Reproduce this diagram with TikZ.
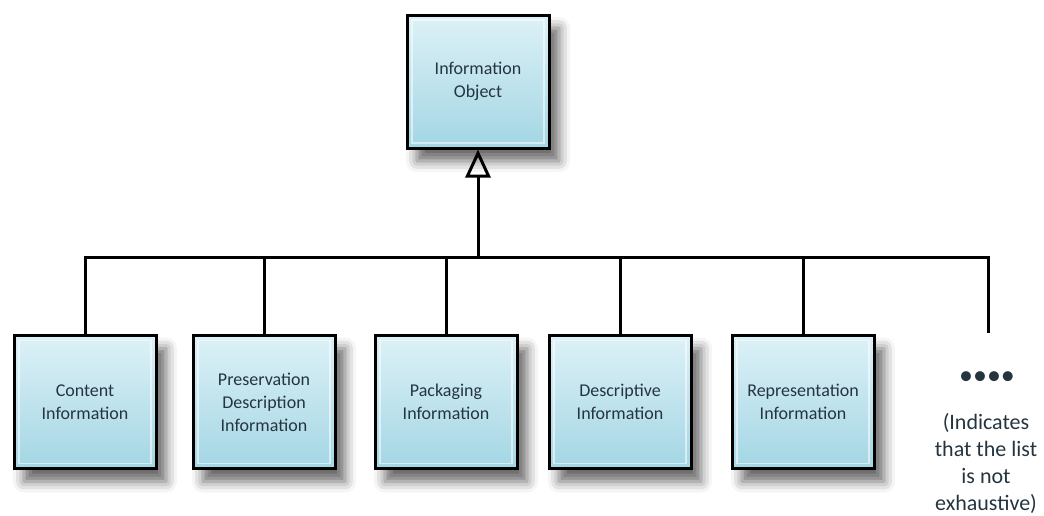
\documentclass[tikz,border=0pt]{standalone}
\usepackage{fontspec}
\setmainfont{Carlito}
\usetikzlibrary{arrows.meta,shadows.blur,positioning}
\definecolor{boxtop}{HTML}{DDF1F7}
\definecolor{boxbot}{HTML}{A3D6E4}
\definecolor{boxtext}{HTML}{253540}
\begin{document}
\begin{tikzpicture}[
	x=1pt,y=-1pt,
	line width=3pt,
	line join=miter,
	infobox/.style={draw=black, minimum width=142pt, minimum height=133pt,
		top color=boxtop, bottom color=boxbot, align=center,
		text=boxtext, font=\fontsize{18}{23}\selectfont,
		blur shadow={shadow xshift=10pt, shadow yshift=-13pt, shadow blur radius=11pt, shadow opacity=60},
		path picture={\draw[white, opacity=.55, line width=1.5pt]
			([shift={(5pt,-5pt)}]path picture bounding box.north west) rectangle
			([shift={(-5pt,5pt)}]path picture bounding box.south east);}},
	note/.style={align=center, text=boxtext, font=\fontsize{22}{27}\selectfont}
	]
	\useasboundingbox (0,0) rectangle (1044,515);
	% top class
	\node[infobox] (info) at (478,81.5) {Information\\Object};
	% sub classes
	\node[infobox] (content) at (85,402) {Content\\Information};
	\node[infobox] (pdi) at (264,402) {Preservation\\Description\\Information};
	\node[infobox] (packaging) at (446,402) {Packaging\\Information};
	\node[infobox] (descriptive) at (620,402) {Descriptive\\Information};
	\node[infobox] (repinfo) at (803,402) {Representation\\Information};
	\node[note, font=\fontsize{28}{28}\selectfont] (dots) at (987,378) {\textbullet\textbullet\textbullet\textbullet};
	\node[note] (more) at (986,463) {(Indicates\\that the list\\is not\\exhaustive)};
	\coordinate (busy) at (0,257);
	\coordinate (moreend) at (988,333);
	% connectors
	\draw (content.north) -- (content.north |- busy) -- (moreend |- busy) -- (moreend);
	\foreach \n in {pdi,packaging,descriptive,repinfo}
		\draw (\n.north) -- (\n.north |- busy);
	\draw[-{Triangle[open,length=28pt,width=25pt]}] (info.south |- busy) -- (info.south);
\end{tikzpicture}
\end{document}
